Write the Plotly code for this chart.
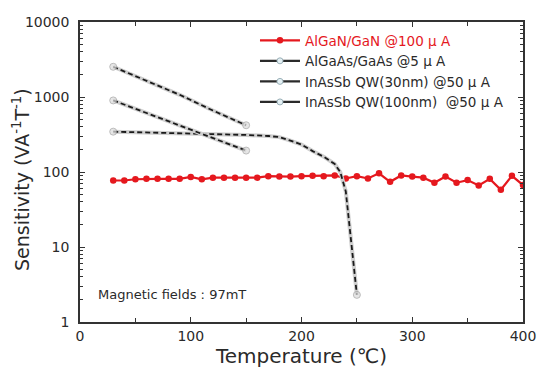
import plotly.graph_objects as go

# AlGaN/GaN @100uA
t_gan = [30, 40, 50, 60, 70, 80, 90, 100, 110, 120, 130, 140, 150, 160, 170, 180, 190, 200,
         210, 220, 230, 240, 250, 260, 270, 280, 290, 300, 310, 320, 330, 340, 350, 360, 370, 380, 390, 400]
s_gan = [77, 77, 80, 81, 81, 81, 81, 86, 80, 84, 84, 84, 84, 84, 88, 87, 87, 88,
         89, 88, 90, 82, 88, 82, 96, 74, 90, 87, 84, 72, 87, 72, 78, 66, 81, 58, 89, 67]

# AlGaAs/GaAs @5uA
t_gaas = [30, 60, 90, 120, 150, 170, 180, 190, 200, 210, 220, 230, 235, 240, 245, 250]
s_gaas = [345, 338, 330, 322, 312, 302, 292, 262, 232, 190, 160, 128, 100, 55, 12, 2.3]

# InAsSb QW(30nm) @50uA
t_qw30 = [30, 60, 90, 120, 150]
s_qw30 = [900, 610, 420, 285, 193]

# InAsSb QW(100nm) @50uA
t_qw100 = [30, 60, 90, 120, 150]
s_qw100 = [2530, 1660, 1070, 660, 420]

FONT = "DejaVu Sans"
TXT = "#2a2a2a"
fig = go.Figure()

fig.add_trace(go.Scatter(
    x=t_gan, y=s_gan, mode="lines+markers",
    name="<span style='color:#e5181e'>AlGaN/GaN @100 μ A</span>",
    line=dict(color="#e5181e", width=2.2),
    marker=dict(color="#e5181e", size=6.5, symbol="circle"),
))

black_series = [
    (t_gaas, s_gaas, "AlGaAs/GaAs @5 μ A"),
    (t_qw30, s_qw30, "InAsSb QW(30nm) @50 μ A"),
    (t_qw100, s_qw100, "InAsSb QW(100nm)  @50 μ A"),
]
for tx, sy, nm in black_series:
    fig.add_trace(go.Scatter(
        x=tx, y=sy, mode="lines", showlegend=False, hoverinfo="skip",
        line=dict(color="#cfcfcf", width=4),
    ))
    sizes = [7] + [0] * (len(tx) - 2) + [7]
    fig.add_trace(go.Scatter(
        x=tx, y=sy, mode="lines+markers", name=nm, showlegend=False,
        line=dict(color="#1a1a1a", width=1.8, dash="5px,3px"),
        marker=dict(size=sizes, color="#dcdcdc", line=dict(color="#a0a0a0", width=1)),
    ))
    # legend entry: solid line with open marker, as in the original key
    fig.add_trace(go.Scatter(
        x=[None], y=[None], mode="lines+markers", name=nm,
        line=dict(color="#2a2a2a", width=2.2),
        marker=dict(size=6, color="#e4f0f4", line=dict(color="#9ab0b8", width=1)),
    ))

fig.add_annotation(
    x=0.035, y=0.093, xref="paper", yref="paper", xanchor="left", yanchor="middle",
    text="Magnetic fields : 97mT", showarrow=False,
    font=dict(family=FONT, size=13, color=TXT),
)
fig.add_annotation(
    x=0, y=0.5, xref="paper", yref="paper", xanchor="center", yanchor="middle",
    xshift=-59, yshift=-8, textangle=-90, showarrow=False,
    text="Sensitivity (VA<sup>-1</sup>T<sup>-1</sup>)",
    font=dict(family=FONT, size=19, color=TXT),
)

axis_common = dict(
    showline=True, linecolor="#333333", linewidth=1.5, mirror="ticks",
    ticks="inside", ticklen=5, tickcolor="#333333", showgrid=False, zeroline=False,
    tickfont=dict(family=FONT, size=14, color=TXT),
)

fig.update_xaxes(
    range=[0, 400], dtick=100, tick0=0,
    minor=dict(ticks="inside", dtick=50, ticklen=4, tickcolor="#333333", showgrid=False),
    title=dict(text="Temperature (℃)", font=dict(family=FONT, size=20, color=TXT), standoff=0),
    **axis_common,
)
fig.update_yaxes(
    type="log", range=[0, 4], dtick=1,
    minor=dict(ticks="inside", ticklen=3, tickcolor="#333333", showgrid=False),
    tickformat="d", ticklabelstandoff=6,
    **axis_common,
)

fig.update_layout(
    width=548, height=371,
    margin=dict(l=80, r=14, t=22, b=49),
    paper_bgcolor="white", plot_bgcolor="white",
    font=dict(family=FONT, color=TXT),
    legend=dict(
        x=0.395, y=0.99, xanchor="left", yanchor="top",
        bgcolor="rgba(0,0,0,0)", font=dict(family=FONT, size=13.5, color=TXT),
        tracegroupgap=0, itemwidth=40,
    ),
    showlegend=True,
)

fig.write_html("out.html")
